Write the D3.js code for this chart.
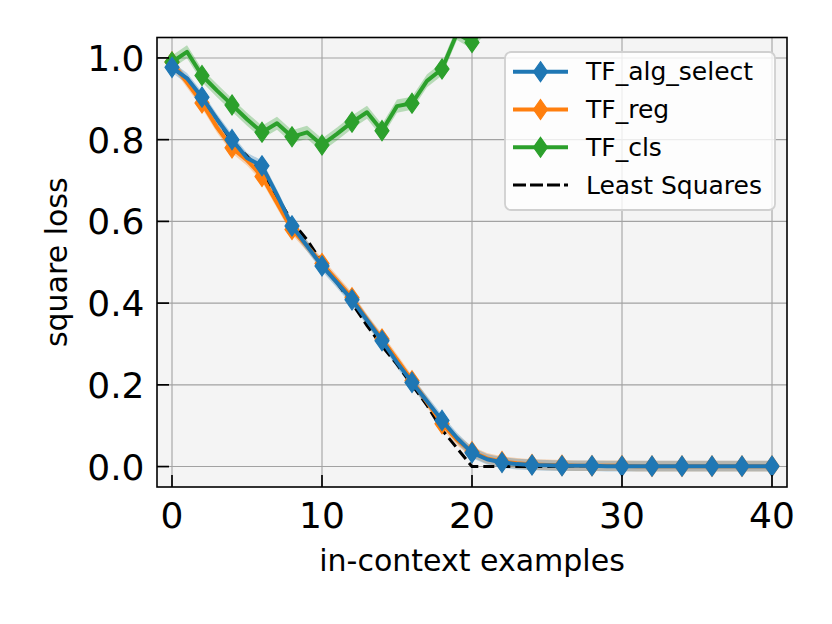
<!DOCTYPE html>
<html>
<head>
<meta charset="utf-8">
<script src="https://cdn.jsdelivr.net/npm/d3@7"></script>
<style>
  body { margin: 0; background: #fff; }
  text { font-family: "DejaVu Sans", sans-serif; }
</style>
</head>
<body>
<svg id="chart" width="832" height="624"></svg>
<script>
// in-context examples on the x axis
const examples = d3.range(0, 41);

const algSelect = [0.977, 0.95, 0.904, 0.85, 0.80, 0.755, 0.736, 0.665, 0.589, 0.54,
    0.491, 0.45, 0.408, 0.358, 0.308, 0.255, 0.206, 0.16, 0.113, 0.07,
    0.034, 0.018, 0.010, 0.006, 0.004, 0.003, 0.002, 0.002, 0.002, 0.001,
    0.001, 0.001, 0.001, 0.001, 0.001, 0.001, 0.001, 0.001, 0.001, 0.001, 0.001];

const tfReg = [0.99, 0.94, 0.89, 0.83, 0.78, 0.75, 0.71, 0.645, 0.58, 0.54,
    0.497, 0.455, 0.413, 0.36, 0.312, 0.262, 0.21, 0.158, 0.105, 0.065,
    0.036, 0.02, 0.012, 0.008, 0.005, 0.004, 0.003, 0.002, 0.002, 0.002,
    0.002, 0.001, 0.001, 0.001, 0.001, 0.001, 0.001, 0.001, 0.001, 0.001, 0.001];

const tfCls = [0.99, 1.015, 0.957, 0.92, 0.885, 0.85, 0.818, 0.84, 0.807, 0.818,
    0.787, 0.814, 0.843, 0.867, 0.822, 0.882, 0.889, 0.944, 0.973, 1.06,
    1.038, 1.08, 1.12, 1.15, 1.18, 1.2, 1.22, 1.24, 1.25, 1.27,
    1.28, 1.3, 1.31, 1.32, 1.33, 1.34, 1.35, 1.36, 1.37, 1.38, 1.39];

const leastSquares = [0.975, 0.95, 0.90, 0.85, 0.795, 0.76, 0.72, 0.66, 0.60, 0.555,
    0.50, 0.45, 0.40, 0.345, 0.295, 0.25, 0.20, 0.15, 0.09, 0.045,
    0, 0, 0, 0, 0, 0, 0, 0, 0, 0,
    0, 0, 0, 0, 0, 0, 0, 0, 0, 0, 0];

// half width of the shaded spread round each curve
const spread = { alg: 0.013, reg: 0.013, cls: 0.016 };

const xTicks = [0, 10, 20, 30, 40];
const yTicks = [0.0, 0.2, 0.4, 0.6, 0.8, 1.0];

const legendNames = ["TF_alg_select", "TF_reg", "TF_cls", "Least Squares"];
const COLORS = { alg: "#1f77b4", reg: "#ff7f0e", cls: "#2ca02c", ls: "#000000" };

const plot = { left: 157, right: 787, top: 37.5, bottom: 487 };

const svg = d3.select("#chart");
svg.append("rect").attr("width", 832).attr("height", 624).attr("fill", "#fff");

const x = d3.scaleLinear().domain([-1, 41]).range([plot.left, plot.right]);
const y = d3.scaleLinear().domain([-0.05, 1.05]).range([plot.bottom, plot.top]);

svg.append("defs").append("clipPath").attr("id", "clip")
    .append("rect")
    .attr("x", plot.left).attr("y", plot.top)
    .attr("width", plot.right - plot.left).attr("height", plot.bottom - plot.top);

svg.append("rect")
    .attr("x", plot.left).attr("y", plot.top)
    .attr("width", plot.right - plot.left).attr("height", plot.bottom - plot.top)
    .attr("fill", "#f4f4f4");

// grid
const grid = svg.append("g").attr("stroke", "#a2a2a2").attr("stroke-width", 1.1);
grid.selectAll(".gx").data(xTicks).enter().append("line")
    .attr("x1", d => x(d)).attr("x2", d => x(d))
    .attr("y1", plot.top).attr("y2", plot.bottom);
grid.selectAll(".gy").data(yTicks).enter().append("line")
    .attr("y1", d => y(d)).attr("y2", d => y(d))
    .attr("x1", plot.left).attr("x2", plot.right);

const layer = svg.append("g").attr("clip-path", "url(#clip)");

const line = d3.line().x((d, i) => x(examples[i])).y(d => y(d));
const band = (vals, w) => d3.area()
    .x((d, i) => x(examples[i]))
    .y0(d => y(d - w)).y1(d => y(d + w))(vals);

const diamond = "M0,-10L7,0L0,10L-7,0Z";

// shaded spreads
[[tfReg, spread.reg, COLORS.reg], [tfCls, spread.cls, COLORS.cls], [algSelect, spread.alg, COLORS.alg]]
    .forEach(([vals, w, c]) => {
        layer.append("path").attr("d", band(vals, w))
            .attr("fill", c).attr("opacity", 0.3);
    });

// least squares baseline
layer.append("path").datum(leastSquares)
    .attr("d", line)
    .attr("fill", "none").attr("stroke", COLORS.ls)
    .attr("stroke-width", 3).attr("stroke-dasharray", "11,5");

function drawSeries(vals, color) {
    layer.append("path").datum(vals)
        .attr("d", line)
        .attr("fill", "none").attr("stroke", color)
        .attr("stroke-width", 4).attr("stroke-linejoin", "round");
    // markers on every second point
    layer.selectAll(null)
        .data(examples.filter(e => e % 2 === 0))
        .enter().append("path")
        .attr("d", diamond)
        .attr("transform", e => "translate(" + x(e) + "," + y(vals[e]) + ")")
        .attr("fill", color).attr("stroke", color).attr("stroke-width", 1.2);
}

drawSeries(tfReg, COLORS.reg);
drawSeries(tfCls, COLORS.cls);
drawSeries(algSelect, COLORS.alg);

// frame
svg.append("rect")
    .attr("x", plot.left).attr("y", plot.top)
    .attr("width", plot.right - plot.left).attr("height", plot.bottom - plot.top)
    .attr("fill", "none").attr("stroke", "#000").attr("stroke-width", 1.6);

// ticks (pointing inward) and labels
const ticks = svg.append("g").attr("stroke", "#000").attr("stroke-width", 1.7);
ticks.selectAll(".tx").data(xTicks).enter().append("line")
    .attr("x1", d => x(d)).attr("x2", d => x(d))
    .attr("y1", plot.bottom).attr("y2", plot.bottom - 12);
ticks.selectAll(".ty").data(yTicks).enter().append("line")
    .attr("y1", d => y(d)).attr("y2", d => y(d))
    .attr("x1", plot.left).attr("x2", plot.left + 12);

svg.selectAll(".xl").data(xTicks).enter().append("text")
    .attr("x", d => x(d)).attr("y", 528)
    .attr("text-anchor", "middle").attr("font-size", 36).attr("fill", "#000")
    .text(d => d);
svg.selectAll(".yl").data(yTicks).enter().append("text")
    .attr("x", 144.5).attr("y", d => y(d) + 13)
    .attr("text-anchor", "end").attr("font-size", 36).attr("fill", "#000")
    .text(d => d3.format(".1f")(d));

svg.append("text")
    .attr("x", (plot.left + plot.right) / 2).attr("y", 571)
    .attr("text-anchor", "middle").attr("font-size", 30)
    .text("in-context examples");
svg.append("text")
    .attr("transform", "translate(67," + ((plot.top + plot.bottom) / 2) + ") rotate(-90)")
    .attr("text-anchor", "middle").attr("font-size", 30)
    .text("square loss");

// legend
const legend = svg.append("g");
legend.append("rect")
    .attr("x", 505).attr("y", 52).attr("width", 270).attr("height", 158)
    .attr("rx", 6).attr("fill", "#fff").attr("fill-opacity", 0.8)
    .attr("stroke", "#d0d0d0").attr("stroke-width", 1.8);

const legendColors = [COLORS.alg, COLORS.reg, COLORS.cls, COLORS.ls];
legendNames.forEach((name, i) => {
    const ry = 71.7 + i * 37.8;
    const g = legend.append("g");
    g.append("line")
        .attr("x1", 513).attr("x2", 568).attr("y1", ry).attr("y2", ry)
        .attr("stroke", legendColors[i])
        .attr("stroke-width", i === 3 ? 3 : 4)
        .attr("stroke-dasharray", i === 3 ? "13,4" : null);
    if (i < 3) {
        g.append("path").attr("d", diamond)
            .attr("transform", "translate(540.5," + ry + ")")
            .attr("fill", legendColors[i]).attr("stroke", legendColors[i]).attr("stroke-width", 1.2);
    }
    g.append("text")
        .attr("x", 586).attr("y", ry + 8.5)
        .attr("font-size", 25).attr("fill", "#000")
        .text(name);
});
</script>
</body>
</html>
